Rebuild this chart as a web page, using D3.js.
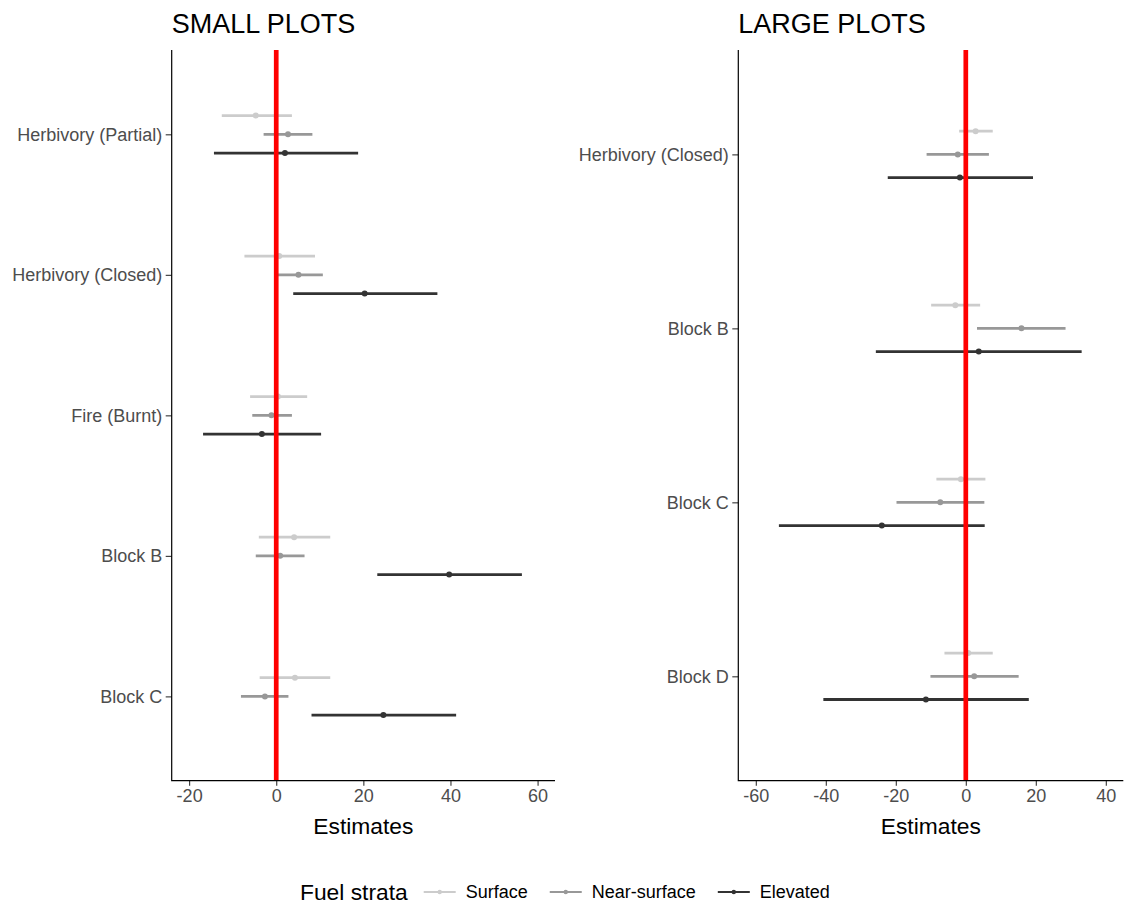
<!DOCTYPE html>
<html>
<head>
<meta charset="utf-8">
<script src="https://cdn.jsdelivr.net/npm/d3@7"></script>
<style>
  body { margin: 0; background: #fff; }
  svg { display: block; font-family: "Liberation Sans", Arial, Helvetica, sans-serif; }
</style>
</head>
<body>
<svg id="chart" width="1130" height="907"></svg>
<script>
// Fuel strata groups and their grey shades
const strata = ["Surface", "Near-surface", "Elevated"];
const strataColors = ["#CCCCCC", "#989898", "#333333"];

// Small plots: model terms, and per stratum [estimate, lower CI, upper CI]
const smallTerms = ["Herbivory (Partial)", "Herbivory (Closed)", "Fire (Burnt)", "Block B", "Block C"];
const smallSurface  = [[-4.7, -12.5, 3.6], [0.7, -7.3, 8.9], [0.4, -6.0, 7.1], [4.1, -4.0, 12.4], [4.3, -3.8, 12.4]];
const smallNear     = [[2.7, -2.9, 8.3], [5.1, -0.4, 10.7], [-1.1, -5.5, 3.6], [0.9, -4.7, 6.5], [-2.6, -8.1, 2.8]];
const smallElevated = [[2.0, -14.3, 18.8], [20.3, 3.9, 37.0], [-3.3, -16.8, 10.3], [39.7, 23.2, 56.4], [24.6, 8.1, 41.3]];
const smallTicks = [-20, 0, 20, 40, 60];

// Large plots
const largeTerms = ["Herbivory (Closed)", "Block B", "Block C", "Block D"];
const largeSurface  = [[2.8, -1.9, 7.7], [-3.0, -9.9, 4.1], [-1.4, -8.4, 5.6], [0.7, -6.1, 7.7]];
const largeNear     = [[-2.3, -11.2, 6.6], [15.9, 3.2, 28.5], [-7.3, -19.8, 5.3], [2.4, -10.1, 15.1]];
const largeElevated = [[-1.7, -22.3, 19.2], [3.7, -25.7, 33.1], [-24.0, -53.4, 5.4], [-11.4, -40.7, 18.0]];
const largeTicks = [-60, -40, -20, 0, 20, 40];

const svg = d3.select("#chart");
const plotTop = 50, plotBottom = 780.7;
const tickColor = "#333333", labelColor = "#4D4D4D";
const tickFont = 18;

const panels = [
  { title: "SMALL PLOTS", terms: smallTerms, series: [smallSurface, smallNear, smallElevated],
    limits: [-20, 60], ticks: smallTicks, left: 171.7, right: 555 },
  { title: "LARGE PLOTS", terms: largeTerms, series: [largeSurface, largeNear, largeElevated],
    limits: [-60, 40], ticks: largeTicks, left: 738.3, right: 1123.3 }
];

panels.forEach(p => {
  const pad = (p.limits[1] - p.limits[0]) * 0.05;
  const x = d3.scaleLinear().domain([p.limits[0] - pad, p.limits[1] + pad]).range([p.left, p.right]);
  const y = d3.scalePoint().domain(p.terms).range([plotTop, plotBottom]).padding(0.6);
  const dodge = y.step() * 0.4 / 3;

  const g = svg.append("g");

  // Panel title
  g.append("text")
    .attr("x", p.left).attr("y", 33)
    .attr("font-size", 27).attr("fill", "#000")
    .text(p.title);

  // Confidence intervals and estimates per stratum
  p.series.forEach((rows, si) => {
    const offset = (si - 1) * dodge;
    const sg = g.append("g");
    sg.selectAll("line.ci").data(rows).enter().append("line")
      .attr("class", "ci")
      .attr("x1", d => x(d[1])).attr("x2", d => x(d[2]))
      .attr("y1", (d, i) => y(p.terms[i]) + offset)
      .attr("y2", (d, i) => y(p.terms[i]) + offset)
      .attr("stroke", strataColors[si]).attr("stroke-width", 2.8);
    sg.selectAll("circle").data(rows).enter().append("circle")
      .attr("cx", d => x(d[0]))
      .attr("cy", (d, i) => y(p.terms[i]) + offset)
      .attr("r", 3)
      .attr("fill", strataColors[si]);
  });

  // Zero reference line
  g.append("line")
    .attr("x1", x(0)).attr("x2", x(0))
    .attr("y1", plotTop).attr("y2", plotBottom)
    .attr("stroke", "#FF0000").attr("stroke-width", 4.7);

  // X axis
  const xAxis = d3.axisBottom(x).tickValues(p.ticks).tickSize(5).tickPadding(4).tickFormat(d3.format("d"));
  const xg = g.append("g").attr("transform", `translate(0,${plotBottom})`).call(xAxis);
  xg.select(".domain").remove();
  xg.selectAll(".tick line").attr("stroke", tickColor).attr("stroke-width", 1.1);
  xg.selectAll(".tick text")
    .attr("fill", labelColor).attr("font-size", tickFont)
    .attr("font-family", "\"Liberation Sans\", Arial, sans-serif")
    .text(d => d < 0 ? "-" + Math.abs(d) : d);

  // Y axis
  const yAxis = d3.axisLeft(y).tickSize(6).tickPadding(3.5);
  const yg = g.append("g").attr("transform", `translate(${p.left},0)`).call(yAxis);
  yg.select(".domain").remove();
  yg.selectAll(".tick line").attr("stroke", tickColor).attr("stroke-width", 1.1);
  yg.selectAll(".tick text")
    .attr("fill", labelColor).attr("font-size", tickFont)
    .attr("font-family", "\"Liberation Sans\", Arial, sans-serif");

  // Axis lines (L-shaped)
  g.append("path")
    .attr("d", `M${p.left},${plotTop}V${plotBottom}H${p.right}`)
    .attr("fill", "none").attr("stroke", "#000").attr("stroke-width", 1.2);

  // X axis title
  g.append("text")
    .attr("x", (p.left + p.right) / 2).attr("y", 834)
    .attr("text-anchor", "middle")
    .attr("font-size", 22.8).attr("fill", "#000")
    .text("Estimates");
});

// Legend
const legendY = 892;
const legend = svg.append("g");
const legendTitle = legend.append("text")
  .attr("x", 300).attr("y", legendY + 8)
  .attr("font-size", 22.8).attr("fill", "#000")
  .text("Fuel strata");
let lx = 300 + legendTitle.node().getComputedTextLength() + 15;
strata.forEach((s, i) => {
  legend.append("line")
    .attr("x1", lx + 1).attr("x2", lx + 33)
    .attr("y1", legendY).attr("y2", legendY)
    .attr("stroke", strataColors[i]).attr("stroke-width", 2);
  legend.append("circle")
    .attr("cx", lx + 17).attr("cy", legendY).attr("r", 2.2)
    .attr("fill", strataColors[i]);
  const t = legend.append("text")
    .attr("x", lx + 43).attr("y", legendY + 6.4)
    .attr("font-size", tickFont).attr("fill", "#000")
    .text(s);
  lx += 43 + t.node().getComputedTextLength() + 21;
});
</script>
</body>
</html>
